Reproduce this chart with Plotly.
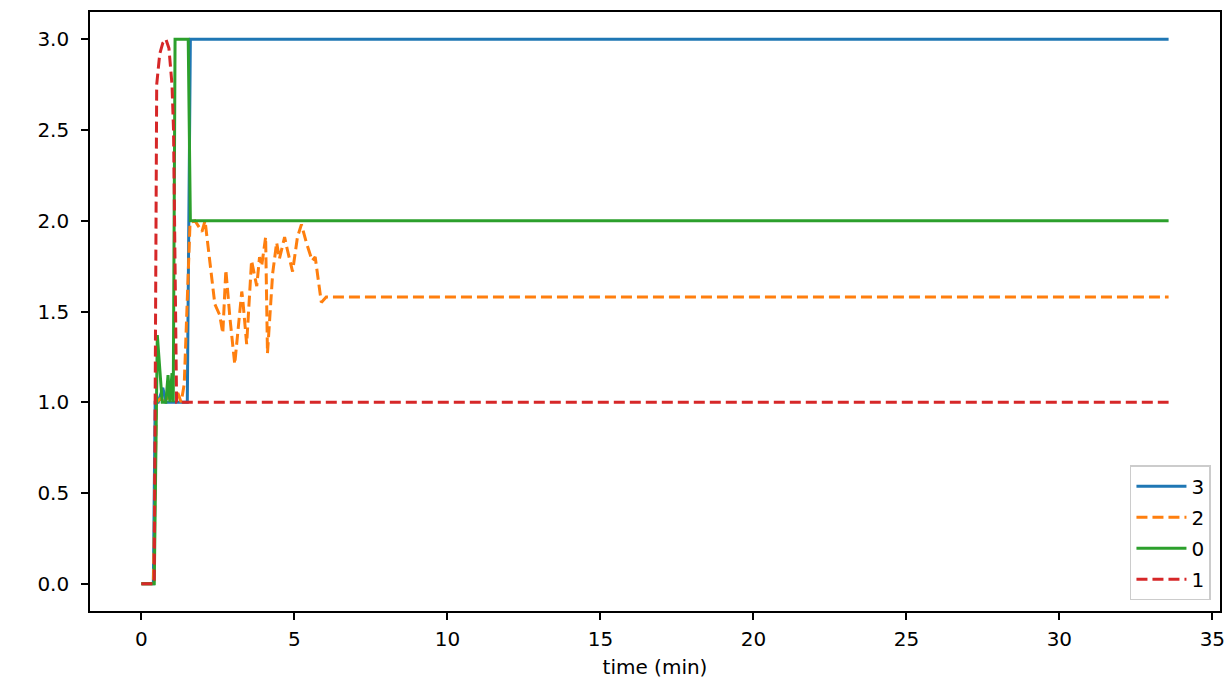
import plotly.graph_objects as go

# series "3" (blue, solid)
t3 = [0, 0.39, 0.45, 0.55, 0.70, 0.80, 1.50, 1.60, 33.57]
v3 = [0, 0, 1.0, 1.0, 1.08, 1.0, 1.0, 3.0, 3.0]

# series "2" (orange, dashed)
t2 = [0, 0.39, 0.49, 0.62, 0.78, 0.94, 1.17, 1.30, 1.40, 1.59, 1.75, 1.98, 2.08,
      2.40, 2.56, 2.66, 2.76, 2.89, 3.05, 3.28, 3.31, 3.44, 3.60, 3.77, 3.86,
      3.93, 4.06, 4.12, 4.29, 4.42, 4.51, 4.68, 4.77, 4.94, 5.10, 5.23, 5.39,
      5.58, 5.68, 5.88, 6.04, 33.57]
v2 = [0, 0, 1.0, 1.02, 1.0, 1.05, 1.06, 1.0, 1.1, 1.99, 2.0, 1.94, 2.0,
      1.54, 1.48, 1.38, 1.73, 1.47, 1.21, 1.61, 1.57, 1.32, 1.78, 1.64, 1.80,
      1.75, 1.91, 1.27, 1.71, 1.88, 1.79, 1.91, 1.84, 1.72, 1.91, 1.98, 1.88,
      1.78, 1.80, 1.55, 1.58, 1.58]

# series "0" (green, solid)
t0 = [0, 0.42, 0.52, 0.68, 0.80, 0.87, 0.93, 1.00, 1.04, 1.10, 1.53, 1.60, 33.57]
v0 = [0, 0, 1.37, 1.0, 1.0, 1.15, 1.0, 1.16, 1.0, 3.0, 3.0, 2.0, 2.0]

# series "1" (red, dashed)
t1 = [0, 0.42, 0.50, 0.60, 0.70, 0.80, 0.90, 1.00, 1.05, 1.15, 33.57]
v1 = [0, 0, 2.75, 2.92, 2.98, 3.0, 2.95, 2.75, 2.5, 1.0, 1.0]

series = [
    ("3", t3, v3, "#1f77b4", "solid"),
    ("2", t2, v2, "#ff7f0e", "11px,5px"),
    ("0", t0, v0, "#2ca02c", "solid"),
    ("1", t1, v1, "#d62728", "11px,5px"),
]

x_ticks = [0, 5, 10, 15, 20, 25, 30, 35]
y_ticks = [0.0, 0.5, 1.0, 1.5, 2.0, 2.5, 3.0]

fig = go.Figure()
for name, t, v, color, dash in series:
    fig.add_trace(go.Scatter(x=t, y=v, mode="lines", name=name, legendgroup=name,
                             line=dict(color=color, width=3, dash=dash)))

axis_common = dict(showgrid=False, zeroline=False, showline=True, linecolor="black",
                   linewidth=1.6, mirror=True, ticks="outside", ticklen=7,
                   tickwidth=1.6, tickcolor="black", ticklabeloverflow="allow",
                   tickfont=dict(family="DejaVu Sans", size=20, color="black"))

fig.update_layout(
    width=1227, height=684,
    margin=dict(l=90, r=2, t=12, b=73),
    plot_bgcolor="white", paper_bgcolor="white",
    font=dict(family="DejaVu Sans", color="black"),
    xaxis=dict(range=[-1.68, 35.25], tickvals=x_ticks, ticklabelstandoff=2,
               title=dict(text="time (min)", font=dict(size=20), standoff=10),
               **axis_common),
    yaxis=dict(range=[-0.15, 3.15], tickvals=y_ticks, tickformat=".1f",
               ticklabelstandoff=8, **axis_common),
    legend=dict(x=0.992, y=0.018, xanchor="right", yanchor="bottom",
                bgcolor="rgba(255,255,255,0.8)", bordercolor="#cccccc", borderwidth=1.5,
                font=dict(size=20), tracegroupgap=2, itemwidth=50),
    showlegend=True,
)

fig.write_html(
    "out.html",
    config={"displayModeBar": False},
    post_script=("document.documentElement.style.overflow='hidden';"
                 "document.body.style.margin='0';"
                 "document.body.style.overflow='hidden';"),
)
